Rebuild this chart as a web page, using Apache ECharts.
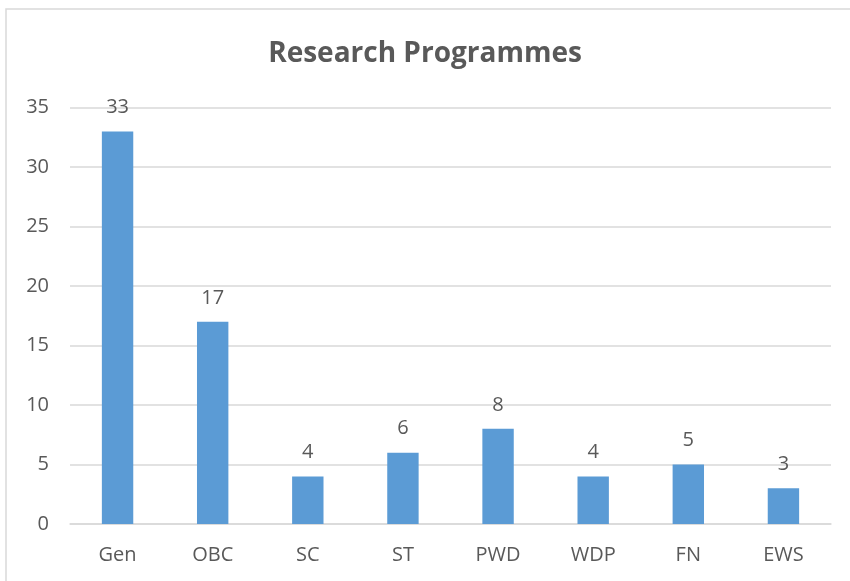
<!DOCTYPE html>
<html>
<head>
<meta charset="utf-8">
<script src="https://cdn.jsdelivr.net/npm/echarts@6/dist/echarts.min.js"></script>
<style>
  html, body { margin: 0; padding: 0; background: #fff; }
  #chart { width: 850px; height: 581px; }
</style>
</head>
<body>
<div id="chart"></div>
<script>
const categories = ['Gen', 'OBC', 'SC', 'ST', 'PWD', 'WDP', 'FN', 'EWS'];
const values = [33, 17, 4, 6, 8, 4, 5, 3];
const chartTitle = 'Research Programmes';

const chart = echarts.init(document.getElementById('chart'));
const textColor = '#595959';
const fontFamily = '"Open Sans", Calibri, sans-serif';

chart.setOption({
  animation: false,
  backgroundColor: '#ffffff',
  title: {
    text: chartTitle,
    left: 'center',
    top: 35,
    textStyle: { color: textColor, fontSize: 28, fontWeight: 'bold', fontFamily: fontFamily }
  },
  // light frame around the chart area
  graphic: [{
    type: 'rect',
    shape: { x: 6, y: 9, width: 900, height: 700 },
    style: { fill: 'none', stroke: '#d9d9d9', lineWidth: 1.5 },
    silent: true
  }],
  grid: { left: 70, right: 19, top: 107.7, bottom: 57 },
  xAxis: {
    type: 'category',
    data: categories,
    axisLine: { show: true, lineStyle: { color: '#d9d9d9', width: 1.5 } },
    axisTick: { show: false },
    axisLabel: { color: textColor, fontSize: 20, fontFamily: fontFamily, margin: 21 }
  },
  yAxis: {
    type: 'value',
    min: 0,
    max: 35,
    interval: 5,
    axisLine: { show: false },
    axisTick: { show: false },
    splitLine: { lineStyle: { color: '#d9d9d9', width: 1.5 } },
    axisLabel: { color: textColor, fontSize: 20, fontFamily: fontFamily, margin: 21 }
  },
  series: [{
    type: 'bar',
    data: values,
    barWidth: '33%',
    itemStyle: { color: '#5B9BD5' },
    label: {
      show: true,
      position: 'top',
      distance: 14,
      color: textColor,
      fontSize: 20,
      fontFamily: fontFamily
    }
  }]
});
</script>
</body>
</html>
